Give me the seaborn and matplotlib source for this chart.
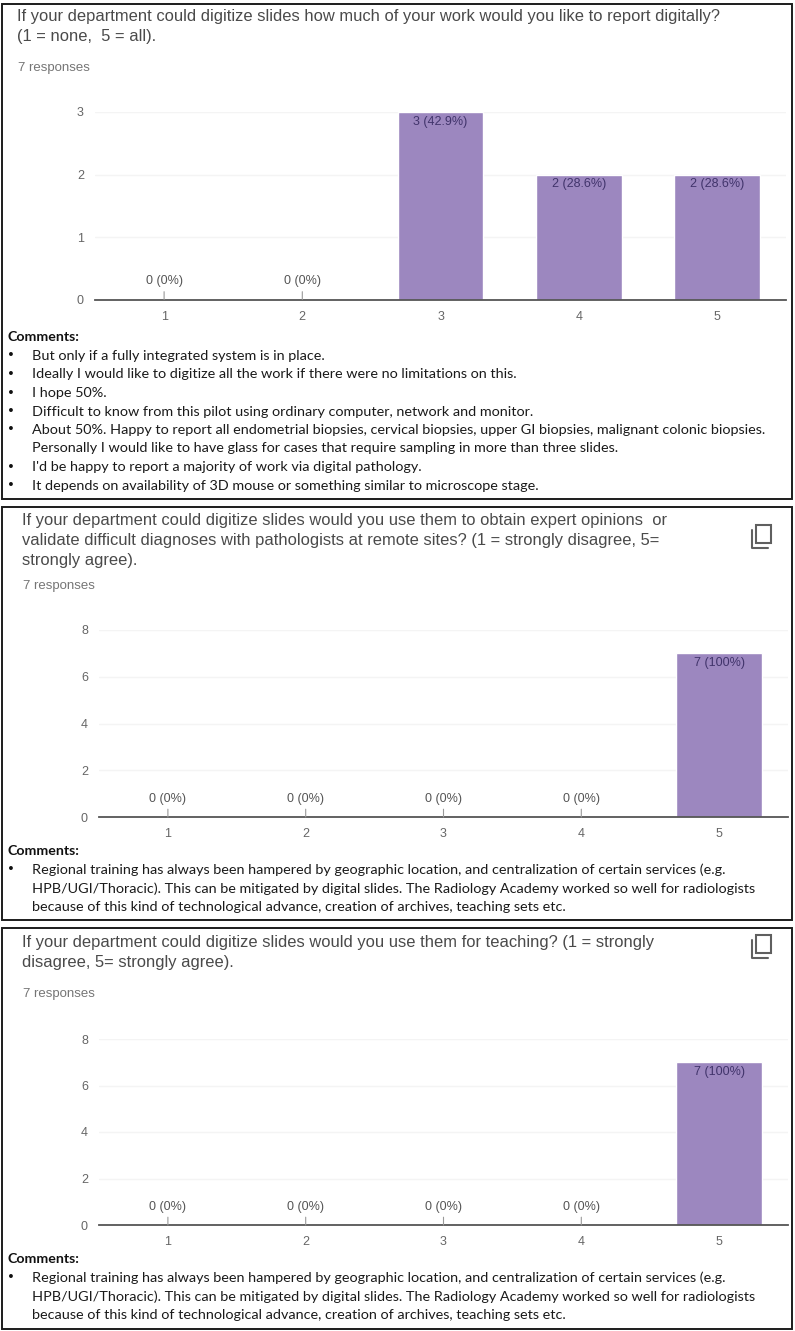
import seaborn as sns
import pandas as pd
import matplotlib.pyplot as plt
from matplotlib.patches import Rectangle

W, H = 795, 1331

scale = ["1", "2", "3", "4", "5"]

counts_report = [0, 0, 3, 2, 2]
labels_report = ["0 (0%)", "0 (0%)", "3 (42.9%)", "2 (28.6%)", "2 (28.6%)"]
title_report = [
    "If your department could digitize slides how much of your work would you like to report digitally?",
    "(1 = none,  5 = all).",
]
comments_report = [
    "But only if a fully integrated system is in place.",
    "Ideally I would like to digitize all the work if there were no limitations on this.",
    "I hope 50%.",
    "Difficult to know from this pilot using ordinary computer, network and monitor.",
    "About 50%. Happy to report all endometrial biopsies, cervical biopsies, upper GI biopsies, malignant colonic biopsies.\n"
    "Personally I would like to have glass for cases that require sampling in more than three slides.",
    "I'd be happy to report a majority of work via digital pathology.",
    "It depends on availability of 3D mouse or something similar to microscope stage.",
]

counts_opinion = [0, 0, 0, 0, 7]
labels_opinion = ["0 (0%)", "0 (0%)", "0 (0%)", "0 (0%)", "7 (100%)"]
title_opinion = [
    "If your department could digitize slides would you use them to obtain expert opinions  or",
    "validate difficult diagnoses with pathologists at remote sites? (1 = strongly disagree, 5=",
    "strongly agree).",
]
comments_regional = [
    "Regional training has always been hampered by geographic location, and centralization of certain services (e.g.\n"
    "HPB/UGI/Thoracic). This can be mitigated by digital slides. The Radiology Academy worked so well for radiologists\n"
    "because of this kind of technological advance, creation of archives, teaching sets etc.",
]

counts_teaching = [0, 0, 0, 0, 7]
labels_teaching = ["0 (0%)", "0 (0%)", "0 (0%)", "0 (0%)", "7 (100%)"]
title_teaching = [
    "If your department could digitize slides would you use them for teaching? (1 = strongly",
    "disagree, 5= strongly agree).",
]

sns.set_theme(style="white")
plt.rcParams["font.family"] = ["Liberation Sans", "DejaVu Sans"]

PURPLE = "#9c87bf"
fig = plt.figure(figsize=(W / 100, H / 100), dpi=100)

# full page layer in pixel coordinates for frames and text
page = fig.add_axes([0, 0, 1, 1])
page.set_xlim(0, W)
page.set_ylim(H, 0)
page.axis("off")


def frame(y0, y1):
    page.add_patch(Rectangle((2, y0), 790, y1 - y0, fill=False, ec="#1c1c1c", lw=1.4))


def title_block(lines, x, y, step, resp_y):
    for i, line in enumerate(lines):
        page.text(x, y + i * step, line, fontsize=11.9, color="#4a4a4a", va="center")
    page.text(x + 1, resp_y, "7 responses", fontsize=9.5, color="#757575", va="center")


def comments(items, y, step=18.5):
    page.text(7, y, "Comments:", fontsize=10.2, fontweight="bold", color="#111111", va="center", family="Lato")
    y += step + 0.5
    for item in items:
        page.text(11, y, "•", fontsize=9.7, color="#111111", va="center", ha="center", family="DejaVu Sans")
        for line in item.split("\n"):
            page.text(32, y, line, fontsize=10.35, color="#1a1a1a", va="center", family="Lato")
            y += step


def copy_icon(x, y):
    page.add_patch(Rectangle((x + 4, y), 15, 18, fill=False, ec="#5f5f5f", lw=1.5))
    page.plot([x, x, x + 16], [y + 5, y + 23, y + 23], color="#5f5f5f", lw=1.5)


def chart(counts, labels, ticks, left, right, top, bottom, ymax):
    ax = fig.add_axes([left / W, 1 - bottom / H, (right - left) / W, (bottom - top) / H])
    df = pd.DataFrame({"rating": scale, "count": counts})
    sns.barplot(data=df, x="rating", y="count", order=scale, color=PURPLE, saturation=1, width=0.62, ax=ax)
    ax.set_xlim(-0.5, 4.5)
    ax.set_ylim(0, ymax)
    ax.set_xlabel("")
    ax.set_ylabel("")
    ax.set_yticks(ticks)
    ax.set_axisbelow(True)
    ax.yaxis.grid(True, color="#f4f4f4", lw=1)
    ax.xaxis.grid(False)
    sns.despine(ax=ax, left=True, top=True, right=True)
    ax.spines["bottom"].set_color("#555555")
    ax.spines["bottom"].set_linewidth(1.3)
    ax.tick_params(axis="both", length=0, labelsize=9, labelcolor="#666666", pad=8)
    ax.patch.set_alpha(0)
    for i, (c, lab) in enumerate(zip(counts, labels)):
        if c == 0:
            # stem from the axis up to the zero label
            ax.annotate(lab, (i, 0), xytext=(0, 13.3), textcoords="offset points", ha="center", va="center",
                        fontsize=9, color="#555555",
                        arrowprops=dict(arrowstyle="-", color="#999999", lw=0.8, shrinkA=1, shrinkB=0))
        else:
            ax.annotate(lab, (i, c), xytext=(0, -7), textcoords="offset points", ha="center", va="center",
                        fontsize=9, color="#41346b")
    return ax


# top panel
frame(4, 499)
title_block(title_report, 17, 16, 20.5, 68)
chart(counts_report, labels_report, [0, 1, 2, 3], 95, 786, 112, 299.5, 3)
comments(comments_report, 337)

# middle panel
frame(507, 920)
title_block(title_opinion, 22, 520, 20, 586)
copy_icon(752, 525)
chart(counts_opinion, labels_opinion, [0, 2, 4, 6, 8], 99, 788, 630, 817, 8)
comments(comments_regional, 851)

# bottom panel
frame(928, 1329)
title_block(title_teaching, 22, 942, 20.5, 994)
copy_icon(752, 935)
chart(counts_teaching, labels_teaching, [0, 2, 4, 6, 8], 99, 788, 1039, 1225, 8)
comments(comments_regional, 1259)

fig.savefig("out.png", dpi=100)
